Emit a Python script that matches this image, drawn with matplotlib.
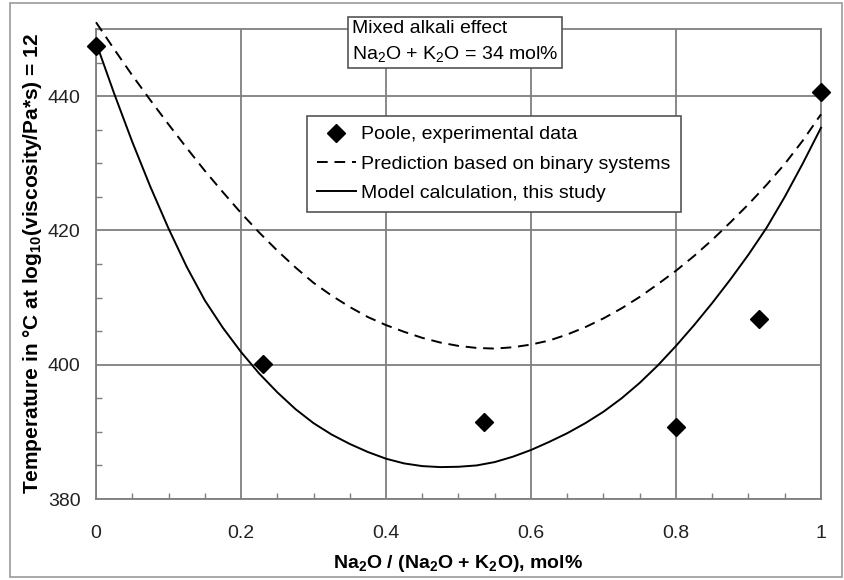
import matplotlib
matplotlib.use("Agg")
import matplotlib.pyplot as plt
from matplotlib.patches import Rectangle
from matplotlib.ticker import MultipleLocator

plt.rcParams['font.family'] = ['Liberation Sans', 'DejaVu Sans']
plt.rcParams['mathtext.fontset'] = 'custom'
plt.rcParams['mathtext.rm'] = 'Liberation Sans'
plt.rcParams['mathtext.it'] = 'Liberation Sans'
plt.rcParams['mathtext.bf'] = 'Liberation Sans:bold'

# Experimental data (Poole)
exp_x = [0.0, 0.23, 0.535, 0.80, 0.915, 1.0]
exp_y = [447.5, 400.1, 391.5, 390.7, 406.8, 440.6]

# Prediction based on binary systems (dashed)
pred_x = [0.0, 0.025, 0.05, 0.075, 0.1, 0.125, 0.15, 0.175, 0.2, 0.225, 0.25,
          0.275, 0.3, 0.325, 0.35, 0.375, 0.4, 0.425, 0.45, 0.475, 0.5, 0.525,
          0.55, 0.575, 0.6, 0.625, 0.65, 0.675, 0.7, 0.725, 0.75, 0.775, 0.8,
          0.825, 0.85, 0.875, 0.9, 0.925, 0.95, 0.975, 1.0]
pred_y = [451.0, 447.0, 443.1, 439.4, 435.8, 432.3, 428.9, 425.7, 422.6, 419.7,
          417.0, 414.5, 412.2, 410.3, 408.6, 407.1, 405.9, 404.9, 404.0, 403.3,
          402.8, 402.5, 402.4, 402.6, 403.0, 403.6, 404.5, 405.6, 406.9, 408.4,
          410.1, 412.0, 414.0, 416.2, 418.6, 421.2, 423.9, 426.8, 429.9, 433.4,
          437.3]

# Model calculation, this study (solid)
model_x = [0.0, 0.025, 0.05, 0.075, 0.1, 0.125, 0.15, 0.175, 0.2, 0.225, 0.25,
           0.275, 0.3, 0.325, 0.35, 0.375, 0.4, 0.425, 0.45, 0.475, 0.5, 0.525,
           0.55, 0.575, 0.6, 0.625, 0.65, 0.675, 0.7, 0.725, 0.75, 0.775, 0.8,
           0.825, 0.85, 0.875, 0.9, 0.925, 0.95, 0.975, 1.0]
model_y = [448.0, 440.4, 433.2, 426.5, 420.3, 414.6, 409.6, 405.5, 401.9, 398.7,
           395.9, 393.4, 391.3, 389.6, 388.2, 387.0, 386.0, 385.3, 384.9, 384.75,
           384.8, 385.0, 385.5, 386.3, 387.3, 388.5, 389.8, 391.3, 393.0, 395.0,
           397.3, 399.9, 402.8, 405.9, 409.2, 412.7, 416.4, 420.4, 425.0, 430.0,
           435.3]

x_ticks = [0, 0.2, 0.4, 0.6, 0.8, 1]
x_tick_labels = ['0', '0.2', '0.4', '0.6', '0.8', '1']
y_ticks = [380, 400, 420, 440]

FS = 14

fig = plt.figure(figsize=(8.45, 5.8), dpi=100)
ax = fig.add_axes([96/845, 1-499/580, (821-96)/845, (499-29)/580])

grid_col = '#7f7f7f'
ax.plot(pred_x, pred_y, color='black', lw=1.4, dashes=(5.5, 3.5), clip_on=False,
        label='Prediction based on binary systems', zorder=3)
ax.plot(model_x, model_y, color='black', lw=1.4, clip_on=False,
        label='Model calculation, this study', zorder=3)
ax.plot(exp_x, exp_y, linestyle='none', marker='D', color='black', markersize=9,
        clip_on=False, label='Poole, experimental data', zorder=4)

ax.set_xlim(0, 1)
ax.set_ylim(380, 450)
ax.set_xticks(x_ticks)
ax.set_xticklabels(x_tick_labels)
ax.set_yticks(y_ticks)
ax.xaxis.set_minor_locator(MultipleLocator(0.05))
ax.yaxis.set_minor_locator(MultipleLocator(5))
ax.tick_params(which='major', length=0, labelsize=FS, labelcolor='#222222')
ax.tick_params(axis='x', which='major', pad=19)
ax.tick_params(axis='y', which='major', pad=11)
ax.tick_params(which='minor', direction='in', length=4, width=1, color=grid_col)
ax.grid(True, which='major', color=grid_col, lw=1.3)
ax.set_axisbelow(True)
for s in ax.spines.values():
    s.set_color(grid_col)
    s.set_linewidth(1.3)

ax.set_xlabel('Na$_\\mathbf{2}$O / (Na$_\\mathbf{2}$O + K$_\\mathbf{2}$O), mol%',
              fontsize=FS, fontweight='bold', labelpad=8)
ax.set_ylabel('Temperature in °C at log$_\\mathbf{10}$(viscosity/Pa*s) = 12',
              fontsize=15, fontweight='bold')
ax.yaxis.set_label_coords(-0.072, 0.5)

handles, labels = ax.get_legend_handles_labels()
order = [2, 0, 1]
leg = ax.legend([handles[i] for i in order], [labels[i] for i in order],
                loc='upper left', bbox_to_anchor=((307-96)/725, (499-116)/470),
                fontsize=FS, frameon=True, fancybox=False, edgecolor='#555555',
                framealpha=1, borderpad=0.5, handlelength=2.0, handletextpad=0.3,
                labelspacing=0.6, borderaxespad=0)
leg.get_frame().set_linewidth(1.2)

fig.text(352/845, 1-42/580, 'Mixed alkali effect\nNa$_2$O + K$_2$O = 34 mol%',
         fontsize=FS, ha='left', va='center', linespacing=1.45,
         bbox=dict(boxstyle='square,pad=0.2', fc='white', ec='#555555', lw=1.2))

fig.patches.append(Rectangle((10/845, 3/580), (842-10)/845, (577-3)/580,
                             transform=fig.transFigure, fill=False,
                             ec='#999999', lw=1.2))

fig.savefig('out.png', dpi=100)
